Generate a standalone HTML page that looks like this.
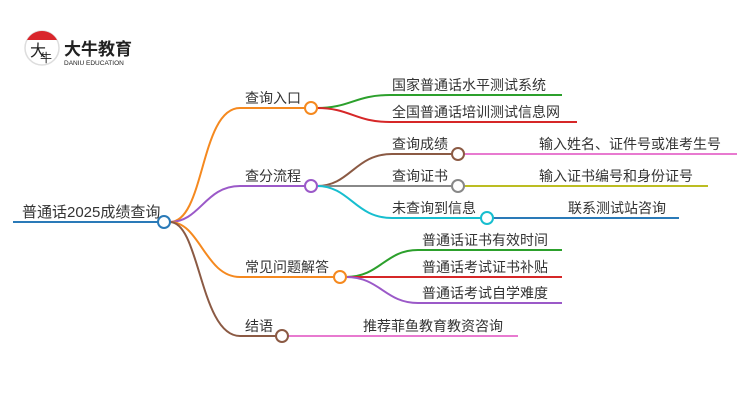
<!DOCTYPE html>
<html><head><meta charset="utf-8"><style>
html,body{margin:0;padding:0;background:#fff}
svg text{font-family:"Liberation Sans","Noto Sans CJK SC",sans-serif;fill:#333}
</style></head><body>
<svg width="750" height="410" viewBox="0 0 750 410" xmlns="http://www.w3.org/2000/svg">
<g fill="none" stroke-width="2">
<!-- logo -->
<circle cx="42" cy="48" r="17" stroke="#ddd" stroke-width="1.5" fill="#fff"/>
<path d="M27 40 A17 17 0 0 1 57 40 Z" fill="#d9262c" stroke="none"/>
<!-- root -->
<line x1="13" y1="222" x2="158" y2="222" stroke="#2a7ab8"/>
<!-- branches -->
<path d="M170 222 C205 222 200 108 240 108 L305 108" stroke="#f5891f"/>
<path d="M170 222 C200 222 205 186 240 186 L305 186" stroke="#9b59c8"/>
<path d="M170 222 C200 222 205 277 240 277 L334 277" stroke="#f5891f"/>
<path d="M170 222 C200 222 200 336 240 336 L276 336" stroke="#8b5a44"/>
<!-- b1 children -->
<path d="M317 108 C350 108 355 95 390 95 L562 95" stroke="#2ca02c"/>
<path d="M317 108 C350 108 355 122 390 122 L577 122" stroke="#d62728"/>
<!-- b2 children -->
<path d="M317 186 C350 186 355 154 392 154 L452 154" stroke="#8b5a44"/>
<line x1="317" y1="186" x2="452" y2="186" stroke="#888"/>
<path d="M317 186 C350 186 355 218 392 218 L481 218" stroke="#17becf"/>
<line x1="464" y1="154" x2="737" y2="154" stroke="#e87ad0"/>
<line x1="464" y1="186" x2="708" y2="186" stroke="#bcbd22"/>
<line x1="493" y1="218" x2="679" y2="218" stroke="#2a7ab8"/>
<!-- b3 children -->
<path d="M346 277 C380 277 385 250 418 250 L562 250" stroke="#2ca02c"/>
<line x1="346" y1="277" x2="562" y2="277" stroke="#d62728"/>
<path d="M346 277 C380 277 385 303 418 303 L562 303" stroke="#9b59c8"/>
<!-- b4 child -->
<line x1="288" y1="336" x2="518" y2="336" stroke="#e87ad0"/>
<!-- circles -->
<circle cx="164" cy="222" r="6" stroke="#2a7ab8" fill="#fff"/>
<circle cx="311" cy="108" r="6" stroke="#f5891f" fill="#fff"/>
<circle cx="311" cy="186" r="6" stroke="#9b59c8" fill="#fff"/>
<circle cx="340" cy="277" r="6" stroke="#f5891f" fill="#fff"/>
<circle cx="282" cy="336" r="6" stroke="#8b5a44" fill="#fff"/>
<circle cx="458" cy="154" r="6" stroke="#8b5a44" fill="#fff"/>
<circle cx="458" cy="186" r="6" stroke="#888" fill="#fff"/>
<circle cx="487" cy="218" r="6" stroke="#17becf" fill="#fff"/>
</g>
<text x="30" y="56" font-size="16" style="fill:#222">大</text>
<text x="40" y="62" font-size="12" style="fill:#222">牛</text>
<text x="64" y="55" font-size="17" font-weight="bold" style="fill:#222">大牛教育</text>
<text x="64" y="65" font-size="6.5" style="fill:#222">DANIU EDUCATION</text>
<g font-size="14">
<text x="22" y="217" font-size="15">普通话2025成绩查询</text>
<text x="245" y="103">查询入口</text>
<text x="245" y="181">查分流程</text>
<text x="245" y="272">常见问题解答</text>
<text x="245" y="331">结语</text>
<text x="392" y="90">国家普通话水平测试系统</text>
<text x="392" y="117">全国普通话培训测试信息网</text>
<text x="392" y="149">查询成绩</text>
<text x="392" y="181">查询证书</text>
<text x="392" y="213">未查询到信息</text>
<text x="539" y="149">输入姓名、证件号或准考生号</text>
<text x="539" y="181">输入证书编号和身份证号</text>
<text x="568" y="213">联系测试站咨询</text>
<text x="422" y="245">普通话证书有效时间</text>
<text x="422" y="272">普通话考试证书补贴</text>
<text x="422" y="298">普通话考试自学难度</text>
<text x="363" y="331">推荐菲鱼教育教资咨询</text>
</g>
</svg>
</body></html>
